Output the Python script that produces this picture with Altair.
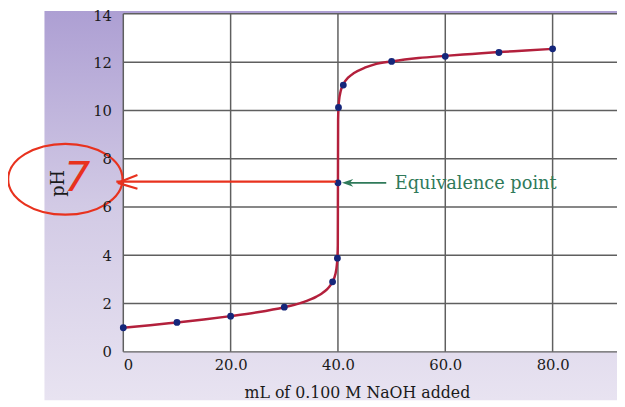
import altair as alt
import pandas as pd

# measured titration points
pt_ml = [0, 10, 20, 30, 39, 39.9, 40, 40.1, 41, 50, 60, 70, 80]
pt_ph = [1.00, 1.22, 1.48, 1.85, 2.90, 3.88, 7.00, 10.12, 11.05, 12.03, 12.24, 12.40, 12.55]

# smooth curve
cv_ml = [0, 5, 10, 15, 20, 25, 30, 33, 35, 36, 37, 38, 38.5, 39, 39.5, 39.8, 39.9,
         39.97, 40, 40.03, 40.1, 40.2, 40.5, 41, 42, 43, 45, 47, 50, 55, 60, 65, 70, 75, 80]
cv_ph = [1.00, 1.10, 1.22, 1.34, 1.48, 1.64, 1.85, 2.02, 2.18, 2.29, 2.42, 2.60, 2.73,
         2.90, 3.20, 3.60, 3.90, 4.40, 7.00, 9.60, 10.12, 10.40, 10.79, 11.08, 11.38,
         11.55, 11.77, 11.92, 12.03, 12.17, 12.26, 12.34, 12.42, 12.48, 12.55]

x_grid = [0, 20, 40, 60, 80]
y_grid = [0, 2, 4, 6, 8, 10, 12, 14]

W, H = 501, 343
XD = [0, 92]
YD = [0, 14]

pts = pd.DataFrame({"ml": pt_ml, "ph": pt_ph})
curve = pd.DataFrame({"ml": cv_ml, "ph": cv_ph})

xs = alt.Scale(domain=XD, nice=False, zero=False)
ys = alt.Scale(domain=YD, nice=False)

one = pd.DataFrame({"a": [0]})
FONT = "DejaVu Serif"
GRID = "#5f5f5f"

bg = alt.Chart(one).mark_rect(
    clip=False,
    fill=alt.Gradient(gradient="linear", x1=0, y1=0, x2=0, y2=1,
                      stops=[alt.GradientStop(color="#ad9fd3", offset=0),
                             alt.GradientStop(color="#d2cae5", offset=0.5),
                             alt.GradientStop(color="#e8e3f1", offset=1)]),
).encode(x=alt.value(-80), x2=alt.value(W + 10), y=alt.value(-3), y2=alt.value(H + 49))

white = alt.Chart(one).mark_rect(fill="white", clip=False).encode(
    x=alt.value(0), x2=alt.value(W + 10), y=alt.value(0), y2=alt.value(H))

vgrid = alt.Chart(pd.DataFrame({"g": x_grid})).mark_rule(
    color=GRID, strokeWidth=1.5).encode(
    x=alt.X("g:Q", scale=xs), y=alt.value(0), y2=alt.value(H))

hgrid = alt.Chart(pd.DataFrame({"g": y_grid})).mark_rule(
    color=GRID, strokeWidth=1.5, clip=False).encode(
    y=alt.Y("g:Q", scale=ys), x=alt.value(0), x2=alt.value(W + 10))

base_axes = alt.Chart(pts).mark_point(opacity=0).encode(
    x=alt.X("ml:Q", scale=xs,
            axis=alt.Axis(values=x_grid, grid=False, domain=False, ticks=False, zindex=2,
                          labelExpr="datum.value == 0 ? '0' : format(datum.value, '.1f')",
                          labelFont=FONT, labelFontSize=15,
                          labelColor="#1a1a1a", labelPadding=6,
                          title="mL of 0.100 M NaOH added",
                          titleFont=FONT, titleFontSize=16,
                          titleFontWeight="normal", titleColor="#1a1a1a",
                          titlePadding=12, titleX=237)),
    y=alt.Y("ph:Q", scale=ys,
            axis=alt.Axis(values=y_grid, grid=False, domain=False, ticks=False, zindex=2,
                          labelFont=FONT, labelFontSize=15,
                          labelOffset={"condition": {"test": "datum.value == 14", "value": 2}, "value": 0},
                          labelColor="#1a1a1a", labelPadding=12,
                          title="pH", titleFont=FONT, titleFontSize=18,
                          titleFontWeight="normal", titleColor="#1a1a1a",
                          titlePadding=26)),
)

line = alt.Chart(curve).mark_line(color="#b3203c", strokeWidth=2.5, interpolate="monotone").encode(
    x=alt.X("ml:Q", scale=xs), y=alt.Y("ph:Q", scale=ys), order="ml:Q")

dots = alt.Chart(pts).mark_circle(color="#15267a", size=48, opacity=1).encode(
    x=alt.X("ml:Q", scale=xs), y=alt.Y("ph:Q", scale=ys))

# equivalence point annotation
eq_x1 = [41.5]
eq_x2 = [49.0]
eq_y = [7.0]
green = "#2f7a5a"
arrow = alt.Chart(pd.DataFrame({"x1": eq_x1, "x2": eq_x2, "y": eq_y})).mark_rule(
    color=green, strokeWidth=2).encode(
    x=alt.X("x1:Q", scale=xs), x2="x2:Q", y=alt.Y("y:Q", scale=ys))
head = alt.Chart(pd.DataFrame({"x": [41.8], "y": eq_y})).mark_point(
    shape="M-1,0L1,-0.7L0.4,0L1,0.7Z", filled=True, color=green, size=130, opacity=1).encode(
    x=alt.X("x:Q", scale=xs), y=alt.Y("y:Q", scale=ys))
eq_text = alt.Chart(pd.DataFrame({"x": [50.6], "y": eq_y, "t": ["Equivalence point"]})).mark_text(
    align="left", baseline="middle", font=FONT, fontSize=18, color=green, dy=1).encode(
    x=alt.X("x:Q", scale=xs), y=alt.Y("y:Q", scale=ys), text="t:N")

# hand-drawn red annotation
red = "#e8321e"
red_line = alt.Chart(pd.DataFrame({"x1": [-1.3], "x2": [39.6], "y": [7.05]})).mark_rule(
    color=red, strokeWidth=2.2, clip=False).encode(
    x=alt.X("x1:Q", scale=xs), x2="x2:Q", y=alt.Y("y:Q", scale=ys))
red_head = alt.Chart(pd.DataFrame({"x": [0.8], "y": [7.0]})).mark_point(
    shape="M-1,0L1,-0.8M-1,0L1,0.6", filled=False, color=red, size=400, strokeWidth=2.2,
    opacity=1, clip=False).encode(
    x=alt.X("x:Q", scale=xs), y=alt.Y("y:Q", scale=ys))
red_ell = alt.Chart(pd.DataFrame({"x": [-10.8], "y": [7.15]})).mark_point(
    shape="M-1,0A1,0.62,0,1,1,1,0A1,0.62,0,1,1,-1,0Z", filled=False, color=red,
    size=13456, strokeWidth=2.2, opacity=1, clip=False).encode(
    x=alt.X("x:Q", scale=xs), y=alt.Y("y:Q", scale=ys))
red_seven = alt.Chart(pd.DataFrame({"x": [-8.6], "y": [7.2], "t": ["7"]})).mark_text(
    font="DejaVu Sans", fontSize=42, fontStyle="italic", color=red, clip=False,
    align="center", baseline="middle").encode(
    x=alt.X("x:Q", scale=xs), y=alt.Y("y:Q", scale=ys), text="t:N")

chart = alt.layer(
    bg, white, vgrid, hgrid, base_axes, line, dots, arrow, head, eq_text,
    red_line, red_head, red_ell, red_seven
).properties(
    width=W, height=H,
    autosize=alt.AutoSizeParams(type="none"),
    padding={"left": 117, "top": 3, "right": 0, "bottom": 53},
    background="white",
).configure_view(stroke=None)

chart.save("out.html", embed_options={"renderer": "svg", "actions": False})
